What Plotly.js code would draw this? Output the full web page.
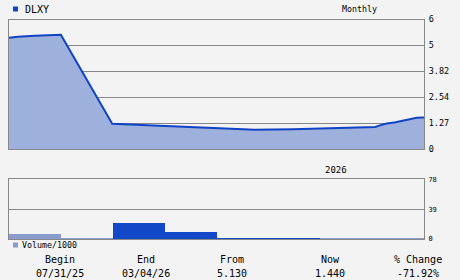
<!DOCTYPE html>
<html><head><meta charset="utf-8">
<script src="https://cdn.plot.ly/plotly-3.0.1.min.js"></script>
<style>html,body{margin:0;padding:0;background:#f3f3f3;}#c{width:460px;height:280px;}</style>
</head><body><div id="c"></div>
<script>
// Price series (x in month units from start of range)
var priceX = [0, 0.17, 0.5, 0.83, 1.0, 1.99, 2.49, 3.16, 3.49, 3.84, 4.26, 4.74, 5.47, 6.5, 7.06, 7.15, 7.26, 7.45, 7.55, 7.65, 7.76, 7.86, 8.0];
var priceY = [5.46, 5.51, 5.56, 5.60, 5.61, 1.24, 1.19, 1.14, 1.09, 1.04, 1.00, 0.95, 0.97, 1.02, 1.08, 1.16, 1.24, 1.31, 1.37, 1.43, 1.48, 1.53, 1.55];
// Monthly volume (thousands)
var volX = [0.5, 1.5, 2.5, 3.5, 4.5, 5.5, 6.5, 7.5];
var volY = [6.5, 1.8, 21.3, 9.5, 1.8, 1.8, 1.8, 1.8];
var volUp = [false, false, true, true, true, true, false, false];
var priceTicks = [0, 1.27, 2.54, 3.82, 5.09, 6.36];
var priceTickText = ["0", "1.27", "2.54", "3.82", "5", "6"];
var volTicks = [0, 39, 78];
var statLabels = ["Begin", "End", "From", "Now", "% Change"];
var statValues = ["07/31/25", "03/04/26", "5.130", "1.440", "-71.92%"];
var statX = [60, 146, 232, 330, 418];

var W = 460, H = 280;
var mono = "DejaVu Sans Mono";
var dLeft = 9 / W, dRight = 424 / W;

var traces = [
  {x: priceX, y: priceY, type: 'scatter', mode: 'lines', fill: 'tozeroy',
   fillcolor: '#9eb0dc', line: {color: '#1044c4', width: 2}, xaxis: 'x', yaxis: 'y', hoverinfo: 'skip'},
  {x: volX, y: volY, type: 'bar', width: 1,
   marker: {color: volUp.map(function(u){return u ? '#1048c8' : '#8a9ccc';}), line: {width: 0}},
   xaxis: 'x2', yaxis: 'y2', hoverinfo: 'skip'}
];

var ann = [
  {text: 'DLXY', x: 23 / W, y: 1 - 9 / H, xref: 'paper', yref: 'paper', xanchor: 'left', yanchor: 'middle', showarrow: false, font: {family: mono, size: 10, color: '#000'}},
  {text: 'Monthly', x: 340 / W, y: 1 - 9 / H, xref: 'paper', yref: 'paper', xanchor: 'left', yanchor: 'middle', showarrow: false, font: {family: mono, size: 8.3, color: '#000'}},
  {text: '2026', x: 336 / W, y: 1 - 170 / H, xref: 'paper', yref: 'paper', xanchor: 'center', yanchor: 'middle', showarrow: false, font: {family: mono, size: 9, color: '#000'}},
  {text: 'Volume/1000', x: 20 / W, y: 1 - 245 / H, xref: 'paper', yref: 'paper', xanchor: 'left', yanchor: 'middle', showarrow: false, font: {family: mono, size: 8.3, color: '#000'}}
];
for (var i = 0; i < statLabels.length; i++) {
  ann.push({text: statLabels[i], x: statX[i] / W, y: 1 - 259 / H, xref: 'paper', yref: 'paper', xanchor: 'center', yanchor: 'middle', showarrow: false, font: {family: mono, size: 10, color: '#000'}});
  ann.push({text: statValues[i], x: statX[i] / W, y: 1 - 273 / H, xref: 'paper', yref: 'paper', xanchor: 'center', yanchor: 'middle', showarrow: false, font: {family: mono, size: 10, color: '#000'}});
}

var shapes = [
  {type: 'rect', xref: 'paper', yref: 'paper', x0: 13 / W, x1: 18 / W, y0: 1 - 11.5 / H, y1: 1 - 6.5 / H, fillcolor: '#1048c8', line: {width: 0}},
  {type: 'rect', xref: 'paper', yref: 'paper', x0: 13 / W, x1: 18 / W, y0: 1 - 247.5 / H, y1: 1 - 242.5 / H, fillcolor: '#8a9ccc', line: {width: 0}}
];

var axisBase = {showline: true, mirror: true, linecolor: '#888', linewidth: 1, zeroline: false, fixedrange: true};

var layout = {
  width: W, height: H,
  margin: {l: 0, r: 0, t: 0, b: 0},
  paper_bgcolor: '#f3f3f3', plot_bgcolor: '#f3f3f3',
  showlegend: false, bargap: 0,
  xaxis: Object.assign({}, axisBase, {domain: [dLeft, dRight], range: [0, 8], showgrid: false, showticklabels: false, ticks: '', anchor: 'y'}),
  yaxis: Object.assign({}, axisBase, {domain: [1 - 149 / H, 1 - 19.5 / H], range: [0, 6.36], side: 'right', anchor: 'x',
    tickmode: 'array', tickvals: priceTicks, ticktext: priceTickText, ticks: '', showgrid: true, gridcolor: '#888', gridwidth: 1,
    ticklabelstandoff: 2, tickfont: {family: mono, size: 8.5, color: '#000'}}),
  xaxis2: Object.assign({}, axisBase, {domain: [dLeft, dRight], range: [0, 8], showgrid: false, showticklabels: false, ticks: '', anchor: 'y2'}),
  yaxis2: Object.assign({}, axisBase, {domain: [1 - 239 / H, 1 - 179.3 / H], range: [0, 78], side: 'right', anchor: 'x2',
    tickmode: 'array', tickvals: volTicks, ticks: '', showgrid: true, gridcolor: '#888', gridwidth: 1,
    ticklabelstandoff: 2, tickfont: {family: mono, size: 7, color: '#000'}}),
  annotations: ann, shapes: shapes
};

Plotly.newPlot('c', traces, layout, {displayModeBar: false, staticPlot: true});
</script></body></html>
